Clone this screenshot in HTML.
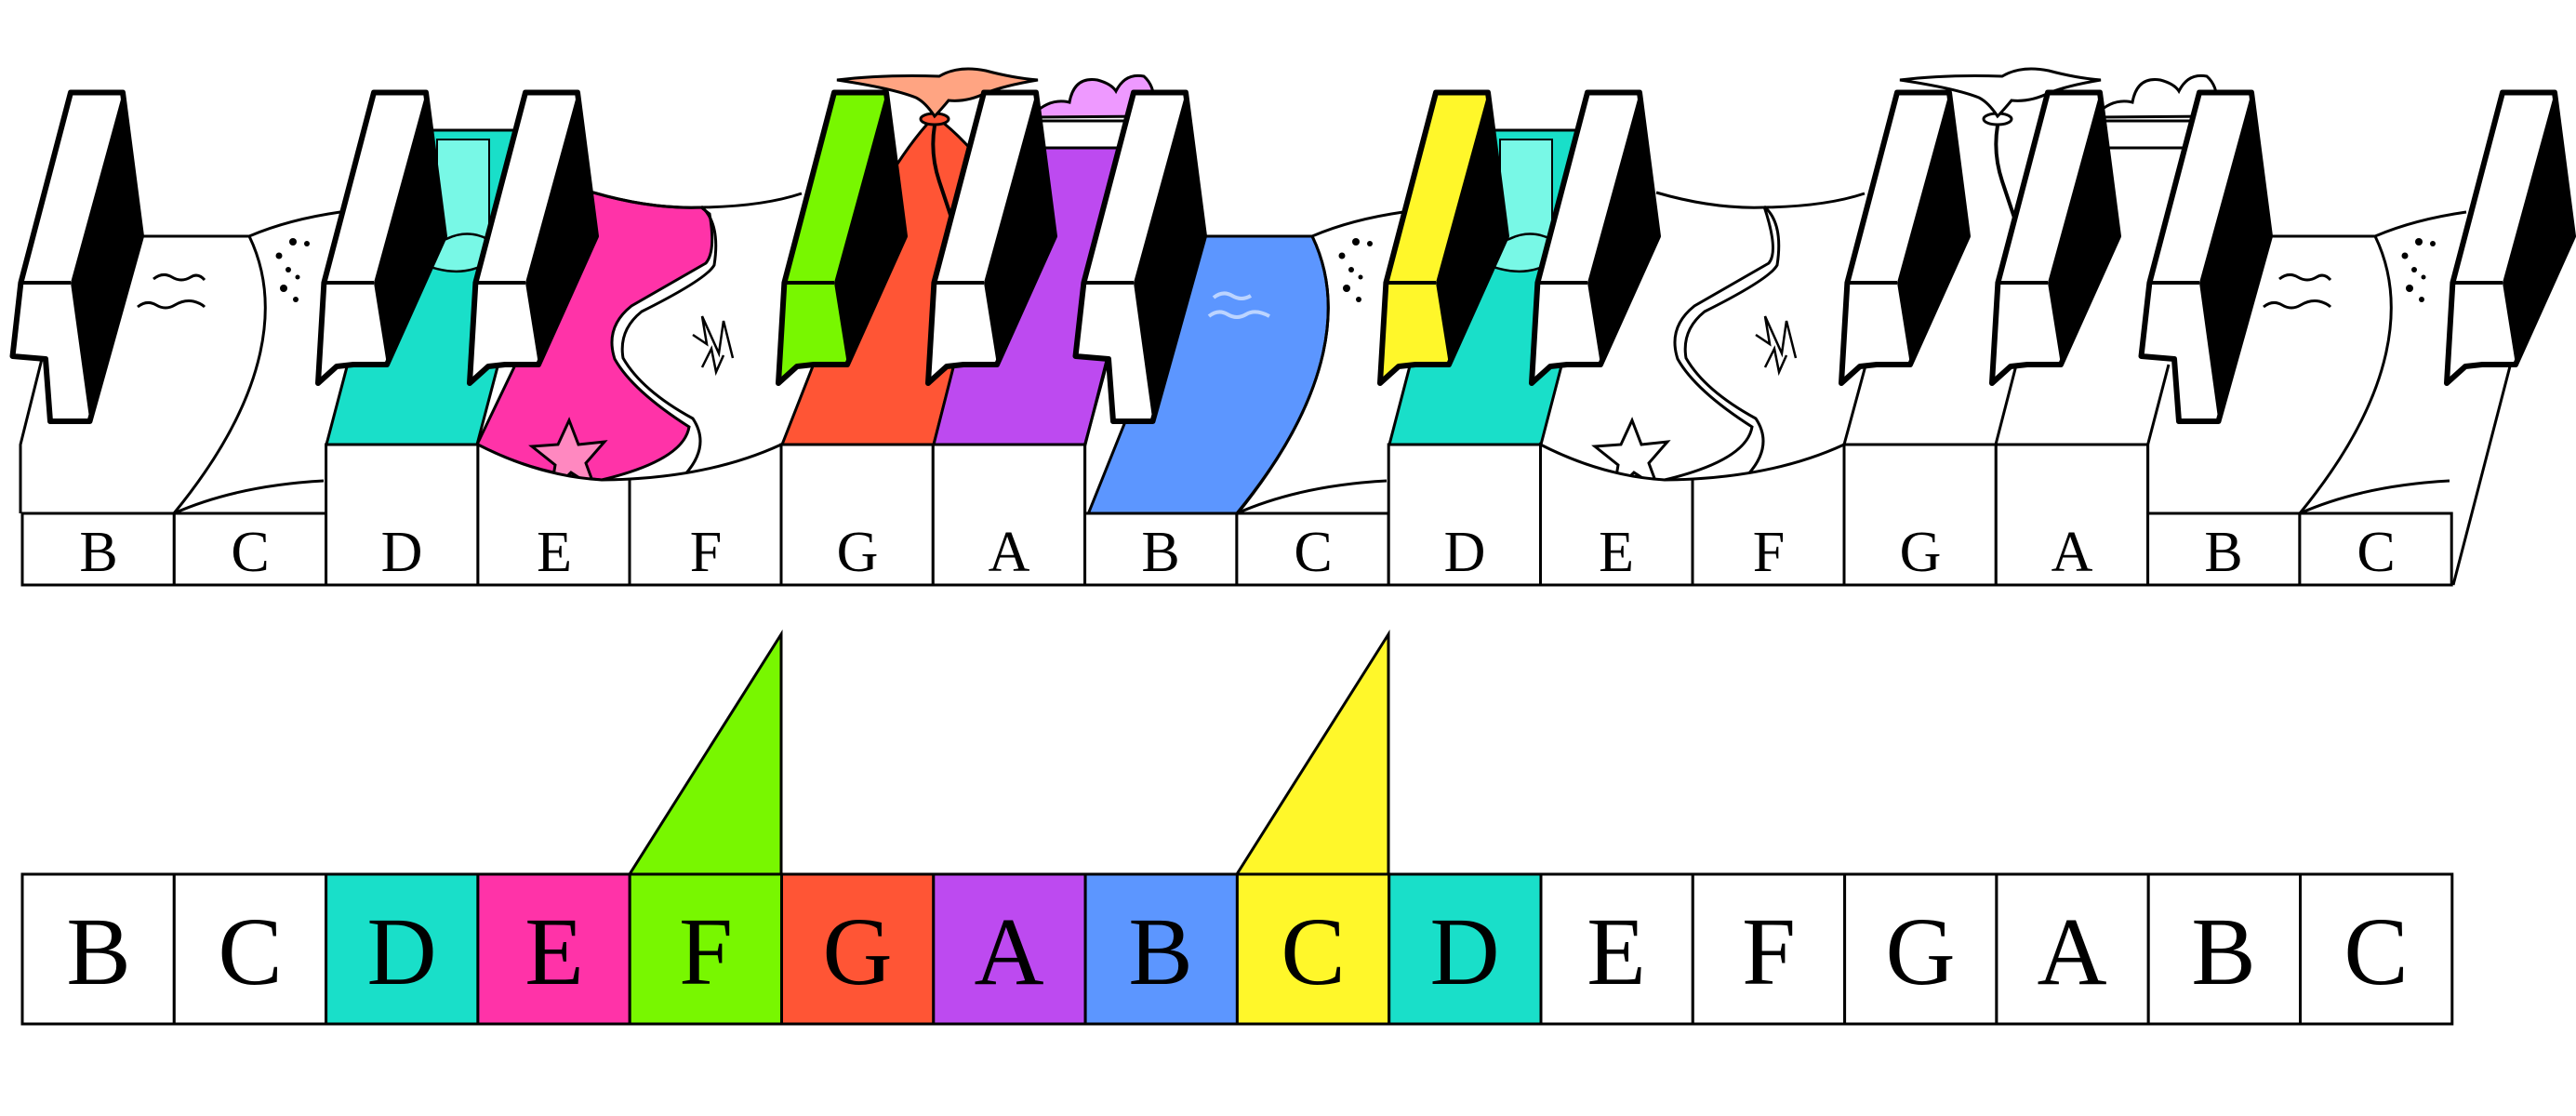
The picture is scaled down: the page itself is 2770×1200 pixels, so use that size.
<!DOCTYPE html>
<html><head><meta charset="utf-8"><style>
html,body{margin:0;padding:0;background:#fff;width:2770px;height:1200px;overflow:hidden}
svg{display:block}
text{font-family:"Liberation Serif","DejaVu Serif",serif;text-anchor:middle}
</style></head><body>
<svg width="2770" height="1200" viewBox="0 0 2770 1200" xmlns="http://www.w3.org/2000/svg">
<defs>
<g id="bkFull">
<path d="M0,99.5 L56,99.5 L76,254 L20.5,453 L-22,453 L-27,386 L-62.5,383 L-53.6,304 Z" stroke="#000" stroke-width="6" stroke-linejoin="round"/>
<path d="M56,99.5 L76,254 L20.5,453 L0,304 Z" fill="#000"/>
<path d="M-53.6,304 L0,304" stroke="#000" stroke-width="4"/>
</g>
<g id="bkShort">
<path d="M0,99.5 L56,99.5 L76,254 L14,392 L-22,392 L-40,394 L-60,412 L-53.6,304 Z" stroke="#000" stroke-width="6" stroke-linejoin="round"/>
<path d="M56,99.5 L76,254 L14,392 L0,304 Z" fill="#000"/>
<path d="M-53.6,304 L0,304" stroke="#000" stroke-width="4"/>
</g>
<g id="lowBC" fill="none" stroke="#000" stroke-width="3">
<path d="M152,254 L268,254"/>
<path d="M268,254 C300,320 295,420 187,552"/>
<path d="M268,254 Q310,236 366,228"/>
<path d="M187,552 Q255,522 348,517"/>
<g fill="#000" stroke="none">
<circle cx="300" cy="275" r="3.5"/><circle cx="315" cy="260" r="4"/><circle cx="330" cy="262" r="3"/><circle cx="310" cy="290" r="3"/><circle cx="320" cy="298" r="2.5"/><circle cx="305" cy="310" r="4"/><circle cx="318" cy="322" r="3"/>
</g>
</g>
<g id="waves" fill="none" stroke="#000" stroke-width="3">
<path d="M165,300 q10,-8 20,-2 q10,6 20,0 q8,-5 15,3"/>
<path d="M148,330 q10,-8 20,-2 q10,6 20,0 q10,-6 20,-4 q8,2 12,6"/>
</g>
</defs>

<polygon points="351,478 513,478 602,140 440,140" fill="#19dfc9" stroke="#000" stroke-width="3"/>
<rect x="470" y="150" width="56" height="110" fill="#78f8e6" stroke="#000" stroke-width="2"/>
<path d="M450,282 q10,-20 30,-25 q20,-10 40,-2 q15,10 0,30 q-30,15 -70,-3z" fill="#78f8e6" stroke="#000" stroke-width="2.5"/>
<path d="M638,207 Q700,225 754,223 L763,230 Q770,270 759,283 L679,329 Q650,352 661,386 Q680,420 741,459 Q735,495 647,516 Q575,510 513,478 L560,380 L600,250 Z" fill="#ff33a8" stroke="#000" stroke-width="3"/>
<path d="M754,222 Q775,240 768,285 Q760,300 690,335 Q665,355 670,385 Q690,420 745,450 Q765,480 735,512" fill="none" stroke="#000" stroke-width="3"/>
<path d="M638,207 Q700,225 754,223 Q820,222 862,208" fill="none" stroke="#000" stroke-width="3"/>
<path d="M745,360 l15,10 l-5,-30 l18,40 l5,-35 l10,40 M755,395 l10,-20 l5,25 l8,-18" fill="none" stroke="#000" stroke-width="2.5"/>
<g transform="translate(612,490)" fill="#ff88c0" stroke="#000" stroke-width="3">
<path d="M0,-38 L10,-12 L38,-15 L18,8 L28,35 L2,18 L-20,40 L-15,10 L-40,-10 L-12,-12 Z"/>
</g>
<path d="M841,478 L1004,478 L1075,200 Q1040,150 1005,125 Q980,150 950,200 Z" fill="#ff5535" stroke="#000" stroke-width="3"/>
<path d="M1005,135 q-5,30 5,60 q10,30 20,60" fill="none" stroke="#000" stroke-width="4"/>
<ellipse cx="1005" cy="128" rx="15" ry="6" fill="#ff5535" stroke="#000" stroke-width="3"/>
<path d="M900,86 Q950,80 1010,82 Q1030,70 1060,76 Q1090,84 1116,86 Q1080,92 1060,100 Q1040,110 1020,108 Q1010,120 1005,125 Q995,110 985,105 Q960,95 900,86 Z" fill="#ffa482" stroke="#000" stroke-width="3"/>
<polygon points="1004,478 1167,478 1248,159 1085,159" fill="#bd4af0" stroke="#000" stroke-width="3"/>
<polygon points="1085,159 1248,159 1252,130 1093,130" fill="#fff" stroke="#000" stroke-width="3"/>
<path d="M1112,122 Q1130,105 1150,110 Q1155,82 1180,86 Q1195,90 1200,98 Q1210,78 1230,82 Q1245,95 1240,125 L1112,126 Z" fill="#ee99ff" stroke="#000" stroke-width="3"/>
<path d="M1170,553 L1330,553 C1438,420 1443,320 1411,254 L1290,254 Z" fill="#5c96ff" stroke="#000" stroke-width="3"/>
<path d="M1305,320 q10,-8 20,-2 q10,6 20,0 M1300,340 q10,-8 20,-2 q10,6 20,0 q10,-6 25,2" fill="none" stroke="#bcd4ff" stroke-width="4"/>

<use href="#lowBC"/>
<use href="#lowBC" transform="translate(1143,0)"/>
<use href="#lowBC" transform="translate(2286,0)"/>
<use href="#waves"/>
<use href="#waves" transform="translate(2286,0)"/>
<path d="M45,386 L22,478 L22,552" fill="none" stroke="#000" stroke-width="3"/>
<path d="M2700,390 L2638,629" fill="none" stroke="#000" stroke-width="3"/>

<polygon points="1494,478 1657,478 1745,140 1582,140" fill="#19dfc9" stroke="#000" stroke-width="3"/>
<rect x="1613" y="150" width="56" height="110" fill="#78f8e6" stroke="#000" stroke-width="2"/>
<path d="M1593,282 q10,-20 30,-25 q20,-10 40,-2 q15,10 0,30 q-30,15 -70,-3z" fill="#78f8e6" stroke="#000" stroke-width="2.5"/>
<g transform="translate(1143,0)" fill="none" stroke="#000" stroke-width="3">
<path d="M754,222 Q770,270 759,283 L679,329 Q650,352 661,386 Q680,420 741,459 Q735,495 647,516"/>
<path d="M754,222 Q775,240 768,285 Q760,300 690,335 Q665,355 670,385 Q690,420 745,450 Q765,480 735,512"/>
<path d="M638,207 Q700,225 754,223 Q820,222 862,208"/>
<path d="M745,360 l15,10 l-5,-30 l18,40 l5,-35 l10,40 M755,395 l10,-20 l5,25 l8,-18" stroke-width="2.5"/>
<g transform="translate(612,490)" fill="#fff"><path d="M0,-38 L10,-12 L38,-15 L18,8 L28,35 L2,18 L-20,40 L-15,10 L-40,-10 L-12,-12 Z"/></g>
<path d="M1005,135 q-5,30 5,60 q10,30 20,60" stroke-width="4"/>
<ellipse cx="1005" cy="128" rx="15" ry="6" fill="#fff"/>
<path d="M900,86 Q950,80 1010,82 Q1030,70 1060,76 Q1090,84 1116,86 Q1080,92 1060,100 Q1040,110 1020,108 Q1010,120 1005,125 Q995,110 985,105 Q960,95 900,86 Z" fill="#fff"/>
<polygon points="1085,159 1248,159 1252,130 1093,130" fill="#fff"/>
<path d="M1112,122 Q1130,105 1150,110 Q1155,82 1180,86 Q1195,90 1200,98 Q1210,78 1230,82 Q1245,95 1240,125 L1112,126 Z" fill="#fff"/>
</g>

<g stroke="#000" stroke-width="3" fill="#fff">
<rect x="24" y="552" width="163.3" height="77"/>
<rect x="187.3" y="552" width="163.3" height="77"/>
<rect x="350.6" y="478" width="163.3" height="151"/>
<path d="M513.9,629 V478 Q580,512 647,516 Q760,515 840,478 V629 Z"/>
<line x1="677" y1="516" x2="677" y2="629"/>
<rect x="840" y="478" width="163.3" height="151"/>
<rect x="1003.3" y="478" width="163.3" height="151"/>
<rect x="1166.6" y="552" width="163.3" height="77"/>
<rect x="1329.9" y="552" width="163.3" height="77"/>
<rect x="1493.2" y="478" width="163.3" height="151"/>
<path d="M1656.5,629 V478 Q1723,512 1790,516 Q1903,515 1983,478 V629 Z"/>
<line x1="1820" y1="516" x2="1820" y2="629"/>
<rect x="1983" y="478" width="163.3" height="151"/>
<rect x="2146.3" y="478" width="163.3" height="151"/>
<rect x="2309.6" y="552" width="163.3" height="77"/>
<rect x="2472.9" y="552" width="163.3" height="77"/>
</g>
<g stroke="#000" stroke-width="3" fill="none">
<path d="M1983,478 L2015,360 M2146,478 L2170,385 M2309.6,552 V478 L2332,392"/>
<path d="M1166.6,552 V478 L1190,392"/>
</g>

<g fill="#fff">
<use href="#bkFull" x="76"/>
<use href="#bkShort" x="402"/>
<use href="#bkShort" x="565"/>
<use href="#bkShort" x="897" fill="#78f700"/>
<use href="#bkShort" x="1058"/>
<use href="#bkFull" x="1219"/>
<use href="#bkShort" x="1544" fill="#fff72a"/>
<use href="#bkShort" x="1707"/>
<use href="#bkShort" x="2040"/>
<use href="#bkShort" x="2202"/>
<use href="#bkFull" x="2365"/>
<use href="#bkShort" x="2691"/>
</g>

<g font-size="62" fill="#000">
<text x="106" y="614">B</text><text x="269" y="614">C</text><text x="432" y="614">D</text><text x="596" y="614">E</text>
<text x="759" y="614">F</text><text x="922" y="614">G</text><text x="1085" y="614">A</text><text x="1248" y="614">B</text>
<text x="1412" y="614">C</text><text x="1575" y="614">D</text><text x="1738" y="614">E</text><text x="1902" y="614">F</text>
<text x="2065" y="614">G</text><text x="2228" y="614">A</text><text x="2391" y="614">B</text><text x="2555" y="614">C</text>
</g>

<polygon points="677,940 840,940 840,682" fill="#78f700" stroke="#000" stroke-width="3"/>
<polygon points="1330,940 1493,940 1493,682" fill="#fff72a" stroke="#000" stroke-width="3"/>
<g stroke="#000" stroke-width="3">
<rect x="24" y="940" width="163.3" height="161" fill="#fff"/>
<rect x="187.3" y="940" width="163.3" height="161" fill="#fff"/>
<rect x="350.6" y="940" width="163.3" height="161" fill="#19dfc9"/>
<rect x="513.9" y="940" width="163.3" height="161" fill="#ff33a8"/>
<rect x="677.2" y="940" width="163.3" height="161" fill="#78f700"/>
<rect x="840.5" y="940" width="163.3" height="161" fill="#ff5535"/>
<rect x="1003.8" y="940" width="163.3" height="161" fill="#bd4af0"/>
<rect x="1167.1" y="940" width="163.3" height="161" fill="#5c96ff"/>
<rect x="1330.4" y="940" width="163.3" height="161" fill="#fff72a"/>
<rect x="1493.7" y="940" width="163.3" height="161" fill="#19dfc9"/>
<rect x="1657" y="940" width="163.3" height="161" fill="#fff"/>
<rect x="1820.3" y="940" width="163.3" height="161" fill="#fff"/>
<rect x="1983.6" y="940" width="163.3" height="161" fill="#fff"/>
<rect x="2146.9" y="940" width="163.3" height="161" fill="#fff"/>
<rect x="2310.2" y="940" width="163.3" height="161" fill="#fff"/>
<rect x="2473.5" y="940" width="163.3" height="161" fill="#fff"/>
</g>
<g font-size="104" fill="#000">
<text x="106" y="1058">B</text><text x="269" y="1058">C</text><text x="432" y="1058">D</text><text x="596" y="1058">E</text>
<text x="759" y="1058">F</text><text x="922" y="1058">G</text><text x="1085" y="1058">A</text><text x="1248" y="1058">B</text>
<text x="1412" y="1058">C</text><text x="1575" y="1058">D</text><text x="1738" y="1058">E</text><text x="1902" y="1058">F</text>
<text x="2065" y="1058">G</text><text x="2228" y="1058">A</text><text x="2391" y="1058">B</text><text x="2555" y="1058">C</text>
</g>
</svg>
</body></html>
